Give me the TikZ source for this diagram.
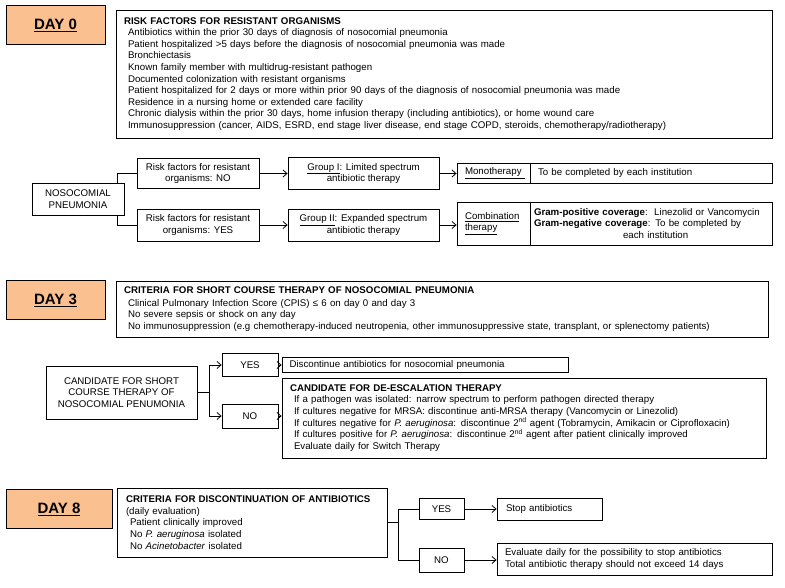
\documentclass[tikz,border=0pt]{standalone}
\usepackage{fontspec}
\setmainfont{Liberation Sans}
\usetikzlibrary{arrows.meta}
\definecolor{dayfill}{RGB}{250,192,144}
\newcommand{\itm}{\hspace*{4pt}}

\begin{document}
\begin{tikzpicture}[x=1pt,y=-1pt,line width=0.8pt,
    every node/.style={font=\fontsize{9.7}{11.6}\selectfont},
    arr/.style={-{Straight Barb[length=4pt,width=7pt]}}]
    \tikzstyle{daybox}=[draw,fill=dayfill,font=\bfseries\fontsize{15}{18}\selectfont]
    \tikzstyle{txtbox}=[draw,align=left,inner xsep=8pt,inner ysep=0pt]
    \tikzstyle{cbox}=[draw,align=center,inner sep=0pt]
    \useasboundingbox (0,0) rectangle (785,588);

    % day labels
    \foreach \d/\x/\y/\w in {0/55.5/25/99, 3/55.5/300/99, 8/59/509/106}
        \node[daybox,minimum width=\w,minimum height=39] (day-\d) at (\x,\y) {\underline{DAY \d}};

    % day 0
    \node[txtbox,text width=640,minimum height=128] (risk) at (444,74) {\textbf{RISK FACTORS FOR RESISTANT ORGANISMS}\\
        \itm Antibiotics within the prior 30 days of diagnosis of nosocomial pneumonia\\
        \itm Patient hospitalized >5 days before the diagnosis of nosocomial pneumonia was made\\
        \itm Bronchiectasis\\
        \itm Known family member with multidrug-resistant pathogen\\
        \itm Documented colonization with resistant organisms\\
        \itm Patient hospitalized for 2 days or more within prior 90 days of the diagnosis of nosocomial pneumonia was made\\
        \itm Residence in a nursing home or extended care facility\\
        \itm Chronic dialysis within the prior 30 days, home infusion therapy (including antibiotics), or home wound care\\
        \itm Immunosuppression (cancer, AIDS, ESRD, end stage liver disease, end stage COPD, steroids, chemotherapy/radiotherapy)};

    \node[cbox,minimum width=92,minimum height=32] (noso) at (78,199) {NOSOCOMIAL\\PNEUMONIA};
    \node[cbox,minimum width=122,minimum height=30] (rno) at (198,173.5) {Risk factors for resistant\\organisms: NO};
    \node[cbox,minimum width=122,minimum height=32] (ryes) at (198,225) {Risk factors for resistant\\organisms: YES};
    \node[cbox,minimum width=151,minimum height=32] (g1) at (363.5,173.5) {\underline{Group I}: Limited spectrum\\antibiotic therapy};
    \node[cbox,minimum width=151,minimum height=32] (g2) at (363.5,225) {\underline{Group II}: Expanded spectrum\\antibiotic therapy};
    \node[txtbox,text width=57,minimum height=20] (mono) at (493.5,173) {\underline{Monotherapy\ }};
    \node[txtbox,text width=226,minimum height=20] (mono-txt) at (651,173) {To be completed by each institution};
    \node[txtbox,text width=57,minimum height=43] (comb) at (493.5,223.5) {\underline{Combination}\\\underline{therapy}\\[4pt]};
    \node[txtbox,minimum height=43,inner xsep=4pt,text width=234] (comb-txt) at (651,223.5) {\textbf{Gram-positive coverage}:\ \ Linezolid or Vancomycin\\
        \textbf{Gram-negative coverage}: To be completed by\\
        \hspace*{89pt}each institution};

    \draw (noso.north east) ++(-7,0) |- (rno.west);
    \draw (noso.south east) ++(-7,0) |- (ryes.west);
    \draw[arr] (rno) -- (g1);
    \draw[arr] (ryes) -- (g2);
    \draw[arr] (g1.east) -- (g1.east -| mono.west);
    \draw[arr] (g2.east) -- (g2.east -| comb.west);

    % day 3
    \node[txtbox,text width=636,minimum height=56] (crit3) at (442,309) {\textbf{CRITERIA FOR SHORT COURSE THERAPY OF NOSOCOMIAL PNEUMONIA}\\[1pt]
        \itm Clinical Pulmonary Infection Score (CPIS) ≤ 6 on day 0 and day 3\\
        \itm No severe sepsis or shock on any day\\
        \itm No immunosuppression (e.g chemotherapy-induced neutropenia, other immunosuppressive state, transplant, or splenectomy patients)};

    \node[cbox,minimum width=151,minimum height=53] (cand) at (121.5,392.5) {CANDIDATE FOR SHORT\\COURSE THERAPY OF\\NOSOCOMIAL PENUMONIA};
    \coordinate (j3) at (209,392.5);
    \node[cbox,minimum width=56,minimum height=23] (yes3) at (250,365) {YES};
    \node[cbox,minimum width=56,minimum height=24] (no3) at (250,416) {NO};
    \node[txtbox,text width=271,minimum height=15,inner xsep=7.5pt] (disc) at (425,365) {Discontinue antibiotics for nosocomial pneumonia};
    \node[txtbox,text width=468,minimum height=80] (deesc) at (524,418) {\textbf{CANDIDATE FOR DE-ESCALATION THERAPY}\\
        \itm If a pathogen was isolated: narrow spectrum to perform pathogen directed therapy\\
        \itm If cultures negative for MRSA: discontinue anti-MRSA therapy (Vancomycin or Linezolid)\\
        \itm If cultures negative for \textit{P. aeruginosa}: discontinue 2\textsuperscript{nd} agent (Tobramycin, Amikacin or Ciprofloxacin)\\
        \itm If cultures positive for \textit{P. aeruginosa}: discontinue 2\textsuperscript{nd} agent after patient clinically improved\\
        \itm Evaluate daily for Switch Therapy};

    \draw (cand.east) -- (j3);
    \draw (j3 |- yes3.west) -- (j3 |- no3.west);
    \draw[arr] (j3 |- yes3.west) -- (yes3.west);
    \draw[arr] (j3 |- no3.west) -- (no3.west);
    \draw[arr] (yes3) -- (disc);
    \draw[arr] (no3.east) -- (no3.east -| deesc.west);

    % day 8
    \node[txtbox,text width=252,minimum height=69,inner xsep=9pt] (crit8) at (252,522.5) {\textbf{CRITERIA FOR DISCONTINUATION OF ANTIBIOTICS}\\
        (daily evaluation)\\
        \itm Patient clinically improved\\
        \itm No \textit{P. aeruginosa} isolated\\
        \itm No \textit{Acinetobacter} isolated};
    \coordinate (j8) at (398,522.5);
    \node[cbox,minimum width=45,minimum height=21] (yes8) at (441.5,509) {YES};
    \node[cbox,minimum width=45,minimum height=24] (no8) at (441.5,560) {NO};
    \node[txtbox,text width=87,minimum height=22,inner xsep=9pt] (stop) at (549.5,509) {Stop antibiotics};
    \node[txtbox,text width=259,minimum height=32] (eval) at (634.5,559) {Evaluate daily for the possibility to stop antibiotics\\
        Total antibiotic therapy should not exceed 14 days};

    \draw (crit8.east) -- (j8);
    \draw (j8 |- yes8.west) -- (j8 |- no8.west);
    \draw (j8 |- yes8.west) -- (yes8.west);
    \draw (j8 |- no8.west) -- (no8.west);
    \draw[arr] (yes8) -- (stop);
    \draw[arr] (no8.east) -- (no8.east -| eval.west);
\end{tikzpicture}
\end{document}
